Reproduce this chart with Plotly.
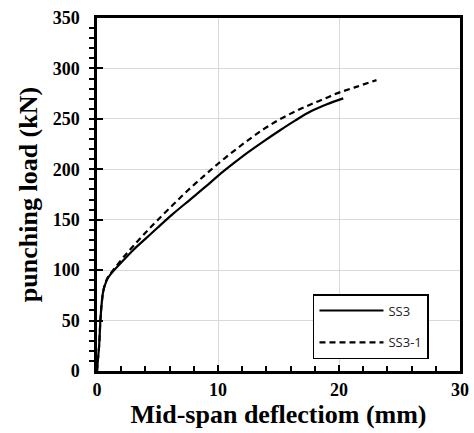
import plotly.graph_objects as go

# Data
ss3_x = [0.0, 0.08, 0.17, 0.28, 0.38, 0.50, 0.65, 0.85, 1.1, 1.5, 2.2, 3.0, 4.0, 5.0, 6.3, 7.7, 9.0, 10.0, 11.3, 12.5, 13.8, 15.1, 16.4, 17.6, 19.0, 20.35]
ss3_y = [0.0, 12.0, 24.0, 50.0, 66.0, 78.0, 85.0, 91.0, 95.5, 101.0, 110.0, 120.0, 131.0, 142.0, 156.0, 170.0, 183.0, 193.5, 206.0, 217.0, 228.0, 238.5, 248.5, 257.0, 264.5, 270.3]

ss31_x = [0.0, 0.08, 0.17, 0.28, 0.38, 0.50, 0.65, 0.85, 1.1, 1.5, 2.2, 3.0, 4.0, 5.0, 6.3, 7.5, 8.8, 10.0, 11.3, 12.5, 13.8, 15.1, 16.4, 17.6, 18.8, 20.0, 21.5, 23.1]
ss31_y = [0.0, 12.0, 24.0, 50.0, 66.0, 78.0, 86.0, 92.0, 96.5, 102.5, 113.0, 124.0, 137.0, 149.5, 165.0, 179.0, 193.0, 205.5, 218.0, 229.0, 240.0, 249.5, 257.5, 264.0, 270.0, 276.0, 282.0, 288.4]

series_names = ["SS3", "SS3-1"]
x_title = "Mid-span deflectiom (mm)"
y_title = "punching load (kN)"

SERIF = "Liberation Serif, Times New Roman, serif"

fig = go.Figure()
fig.add_trace(go.Scatter(x=ss3_x, y=ss3_y, mode="lines", name=series_names[0],
                         line=dict(color="black", width=2.2, shape="spline", smoothing=1.0),
                         legendgroup="a"))
fig.add_trace(go.Scatter(x=ss31_x, y=ss31_y, mode="lines", name=series_names[1],
                         line=dict(color="black", width=2.2, dash="6px,4px", shape="spline", smoothing=1.0),
                         legendgroup="b"))

tickfont = dict(family=SERIF, size=18, color="black", weight="bold")

fig.update_layout(
    width=474, height=433,
    margin=dict(l=97, r=14, t=18, b=62),
    paper_bgcolor="white", plot_bgcolor="white",
    showlegend=True,
    legend=dict(x=0.595, y=0.218, xanchor="left", yanchor="top",
                bgcolor="white", bordercolor="black", borderwidth=1.5,
                font=dict(family="Open Sans, sans-serif", size=13, color="#222"),
                itemwidth=64, tracegroupgap=12, traceorder="grouped"),
    xaxis=dict(range=[0, 30], dtick=10, tick0=0,
               showgrid=True, gridcolor="#d9d9d9", gridwidth=1,
               showline=True, linecolor="black", linewidth=2.5, mirror=True,
               ticks="inside", ticklen=6, tickwidth=2, tickcolor="black",
               minor=dict(dtick=2, ticks="inside", ticklen=5, tickwidth=2, tickcolor="black", showgrid=False),
               tickfont=tickfont, ticklabelstandoff=1,
               zeroline=False, automargin=False,
               title=dict(text=x_title, font=dict(family=SERIF, size=26, color="black", weight="bold"),
                          standoff=4)),
    yaxis=dict(range=[0, 350], dtick=50, tick0=0,
               showgrid=True, gridcolor="#d9d9d9", gridwidth=1,
               showline=True, linecolor="black", linewidth=2.5, mirror=True,
               ticks="inside", ticklen=6, tickwidth=2, tickcolor="black",
               minor=dict(dtick=10, ticks="outside", ticklen=5, tickwidth=2, tickcolor="black", showgrid=False),
               tickfont=tickfont, ticklabelstandoff=11,
               zeroline=False, automargin=False,
               title=dict(text=y_title, font=dict(family=SERIF, size=26, color="black", weight="bold"),
                          standoff=8)),
    xaxis2=dict(range=[0, 30], dtick=10, tick0=0, overlaying="x", anchor="y", side="bottom",
                showgrid=False, showline=False, zeroline=False, showticklabels=False,
                ticks="outside", ticklen=6, tickwidth=2, tickcolor="black"),
    yaxis2=dict(range=[0, 350], dtick=50, tick0=0, overlaying="y", anchor="x", side="left",
                showgrid=False, showline=False, zeroline=False, showticklabels=False,
                ticks="outside", ticklen=6, tickwidth=2, tickcolor="black"),
)

fig.write_html("out.html")
